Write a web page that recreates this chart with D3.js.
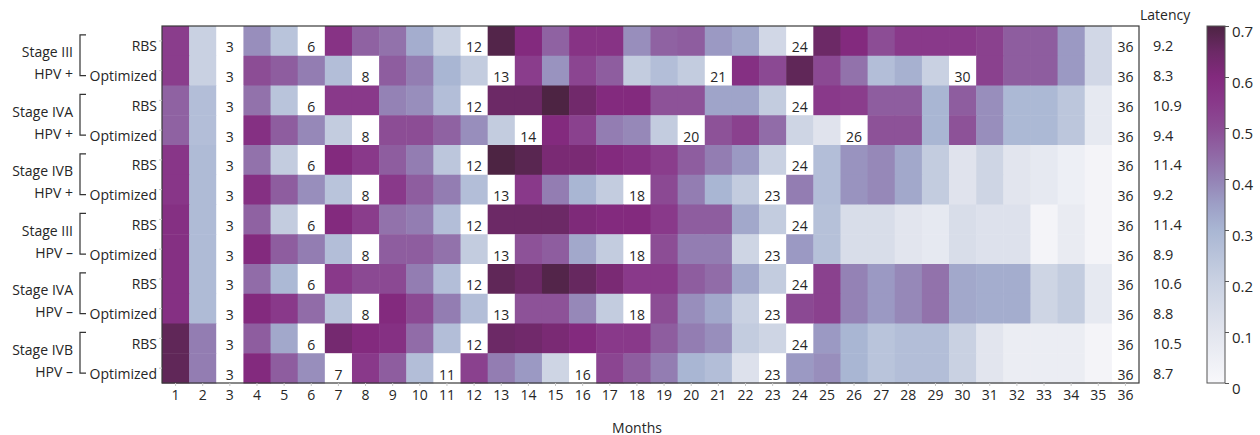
<!DOCTYPE html>
<html>
<head>
<meta charset="utf-8">
<script src="https://cdn.jsdelivr.net/npm/d3@7"></script>
<style>
  html, body { margin: 0; padding: 0; background: #fff; }
  svg { display: block; font-family: "Open Sans", "Noto Sans", sans-serif; }
</style>
</head>
<body>
<svg id="chart" width="1260" height="435"></svg>
<script>
// Months on the horizontal axis
const months = d3.range(1, 37);

// Rows: strategy label per row, with stage/HPV groups of two rows
const strategies = ["RBS", "Optimized", "RBS", "Optimized", "RBS", "Optimized",
                    "RBS", "Optimized", "RBS", "Optimized", "RBS", "Optimized"];
const groupStage = ["Stage III", "Stage IVA", "Stage IVB", "Stage III", "Stage IVA", "Stage IVB"];
const groupHpv = ["HPV +", "HPV +", "HPV +", "HPV \u2013", "HPV \u2013", "HPV \u2013"];

// Mean latency per row
const latency = [9.2, 8.3, 10.9, 9.4, 11.4, 9.2, 11.4, 8.9, 10.6, 8.8, 10.5, 8.7];

// Monthly values per row; null marks a scheduled screening month
const s3PosRBS = [0.54,0.20,null,0.38,0.25,null,0.57,0.46,0.43,0.32,0.20,null,0.69,0.60,0.46,0.57,0.57,0.38,0.46,0.47,0.36,0.33,0.17,null,0.65,0.60,0.50,0.55,0.55,0.55,0.53,0.47,0.47,0.36,0.17,null];
const s3PosOpt = [0.54,0.20,null,0.50,0.47,0.41,0.27,null,0.47,0.41,0.30,0.22,null,0.54,0.37,0.52,0.47,0.22,0.27,0.22,null,0.58,0.51,0.67,0.51,0.43,0.27,0.31,0.20,null,0.53,0.47,0.47,0.36,0.17,null];
const s4aPosRBS = [0.46,0.27,null,0.43,0.25,null,0.55,0.55,0.40,0.38,0.27,null,0.65,0.65,0.70,0.64,0.60,0.60,0.49,0.49,0.34,0.34,0.22,null,0.55,0.54,0.47,0.47,0.30,0.47,0.38,0.29,0.29,0.24,0.08,null];
const s4aPosOpt = [0.46,0.27,null,0.58,0.47,0.39,0.22,null,0.50,0.50,0.46,0.38,0.22,null,0.60,0.53,0.41,0.39,0.22,null,0.49,0.53,0.44,0.18,0.11,null,0.49,0.49,0.30,0.49,0.38,0.29,0.29,0.24,0.08,null];
const s4bPosRBS = [0.56,0.28,null,0.43,0.22,null,0.60,0.55,0.47,0.41,0.24,null,0.70,0.68,0.62,0.62,0.60,0.58,0.54,0.47,0.41,0.36,0.20,null,0.27,0.37,0.39,0.33,0.22,0.11,0.18,0.10,0.08,0.05,0.02,null];
const s4bPosOpt = [0.56,0.28,null,0.58,0.47,0.38,0.25,null,0.55,0.47,0.41,0.27,null,0.55,0.41,0.30,0.22,null,0.51,0.41,0.30,0.22,null,0.41,0.27,0.37,0.39,0.33,0.22,0.11,0.18,0.10,0.08,0.05,0.02,null];
const s3NegRBS = [0.58,0.28,null,0.46,0.22,null,0.60,0.54,0.43,0.41,0.27,null,0.65,0.65,0.65,0.61,0.60,0.60,0.55,0.47,0.47,0.33,0.22,null,0.26,0.14,0.14,0.10,0.08,0.14,0.12,0.12,0.02,0.07,0.02,null];
const s3NegOpt = [0.58,0.28,null,0.60,0.47,0.41,0.27,null,0.47,0.47,0.43,0.22,null,0.49,0.47,0.33,0.22,null,0.50,0.41,0.41,0.18,null,0.36,0.26,0.14,0.14,0.10,0.08,0.14,0.12,0.12,0.02,0.07,0.02,null];
const s4aNegRBS = [0.58,0.28,null,0.44,0.29,null,0.55,0.51,0.51,0.41,0.27,null,0.67,0.65,0.69,0.66,0.62,0.55,0.55,0.47,0.44,0.33,0.22,null,0.53,0.40,0.36,0.39,0.43,0.33,0.32,0.32,0.18,0.22,0.08,null];
const s4aNegOpt = [0.58,0.28,null,0.60,0.55,0.44,0.25,null,0.60,0.51,0.41,0.27,null,0.49,0.49,0.39,0.22,null,0.50,0.38,0.33,0.20,null,0.51,0.53,0.40,0.36,0.39,0.43,0.33,0.32,0.32,0.18,0.22,0.08,null];
const s4bNegRBS = [0.67,0.41,null,0.47,0.33,null,0.63,0.60,0.58,0.44,0.27,null,0.65,0.64,0.62,0.60,0.55,0.55,0.47,0.41,0.38,0.22,0.18,null,0.36,0.30,0.25,0.27,0.27,0.20,0.10,0.06,0.06,0.06,0.02,null];
const s4bNegOpt = [0.67,0.41,null,0.60,0.47,0.38,null,0.55,0.47,0.27,null,0.53,0.41,0.36,0.18,null,0.52,0.47,0.41,0.30,0.27,0.12,null,0.36,0.38,0.30,0.25,0.27,0.27,0.20,0.10,0.06,0.06,0.06,0.02,null];

const rowValues = [s3PosRBS, s3PosOpt, s4aPosRBS, s4aPosOpt, s4bPosRBS, s4bPosOpt,
                   s3NegRBS, s3NegOpt, s4aNegRBS, s4aNegOpt, s4bNegRBS, s4bNegOpt];

// Colour bar ticks
const colorTicks = [0, 0.1, 0.2, 0.3, 0.4, 0.5, 0.6, 0.7];

// ---- layout ----
const svg = d3.select("#chart");
const plot = { left: 162, right: 1139, top: 26, bottom: 383 };
const textColor = "#262626";

const x = d3.scaleBand().domain(months).range([plot.left, plot.right]);
const y = d3.scaleBand().domain(d3.range(strategies.length)).range([plot.top, plot.bottom]);

// sequential white -> blue-grey -> purple -> dark plum
const stopVals = [0, 0.1, 0.2, 0.3, 0.35, 0.4, 0.45, 0.5, 0.55, 0.6, 0.65, 0.7];
const stopCols = ["#f8f8fb", "#e2e5ee", "#c9d1e2", "#a9b6d3", "#9d9fc6", "#9482b5",
                  "#9067a5", "#8c4d95", "#89398a", "#832a7e", "#6c2966", "#4d2443"];
const color = d3.scaleLinear().domain(stopVals).range(stopCols)
  .interpolate(d3.interpolateRgb).clamp(true);

// cells
const cells = [];
rowValues.forEach((vals, r) => vals.forEach((v, i) => cells.push({ r, m: months[i], v })));

svg.append("g").selectAll("rect").data(cells).join("rect")
  .attr("x", d => x(d.m))
  .attr("y", d => y(d.r))
  .attr("width", x.bandwidth() + 0.5)
  .attr("height", y.bandwidth() + 0.5)
  .attr("fill", d => d.v == null ? "#ffffff" : color(d.v));

// screening month labels
svg.append("g").selectAll("text").data(cells.filter(d => d.v == null)).join("text")
  .attr("x", d => x(d.m) + x.bandwidth() / 2)
  .attr("y", d => y(d.r) + y.bandwidth() / 2 + 6)
  .attr("text-anchor", "middle")
  .attr("dominant-baseline", "central")
  .attr("font-size", 14)
  .attr("fill", textColor)
  .text(d => d.m);

// frame
svg.append("rect")
  .attr("x", plot.left).attr("y", plot.top)
  .attr("width", plot.right - plot.left).attr("height", plot.bottom - plot.top)
  .attr("fill", "none").attr("stroke", "#3a3a3a").attr("stroke-width", 1.2);

// bottom axis
const xAxis = svg.append("g")
  .attr("transform", `translate(0,${plot.bottom})`)
  .call(d3.axisBottom(x).tickSize(3).tickPadding(4));
xAxis.select(".domain").remove();
xAxis.selectAll(".tick line").attr("stroke", "#c8c8c8");
xAxis.selectAll(".tick text").attr("font-size", 14).attr("fill", textColor)
  .attr("font-family", "'Open Sans', sans-serif");

svg.append("text")
  .attr("x", 637).attr("y", 427)
  .attr("text-anchor", "middle").attr("dominant-baseline", "central")
  .attr("font-size", 14).attr("fill", textColor)
  .text("Months");

// left ticks and strategy labels
const yAxis = svg.append("g")
  .attr("transform", `translate(${plot.left},0)`)
  .call(d3.axisLeft(y).tickSize(3).tickPadding(2).tickFormat(i => strategies[i]));
yAxis.select(".domain").remove();
yAxis.selectAll(".tick line").attr("stroke", "#c8c8c8");
yAxis.selectAll(".tick text").attr("font-size", 14).attr("fill", textColor)
  .attr("dy", "0.75em").attr("font-family", "'Open Sans', sans-serif");

// group labels with brackets
const groups = groupStage.map((s, g) => ({ stage: s, hpv: groupHpv[g], g }));
const gG = svg.append("g").selectAll("g").data(groups).join("g");
gG.append("text")
  .attr("x", 73)
  .attr("y", d => y(d.g * 2) + y.bandwidth() / 2 + 11)
  .attr("text-anchor", "end").attr("dominant-baseline", "central")
  .attr("font-size", 14).attr("fill", textColor)
  .text(d => d.stage);
gG.append("text")
  .attr("x", 73)
  .attr("y", d => y(d.g * 2 + 1) + y.bandwidth() / 2 + 3)
  .attr("text-anchor", "end").attr("dominant-baseline", "central")
  .attr("font-size", 14).attr("fill", textColor)
  .text(d => d.hpv);
gG.append("path")
  .attr("d", d => {
    const t = y(d.g * 2) + y.bandwidth() / 2 - 6;
    const b = y(d.g * 2 + 1) + y.bandwidth() / 2 + 5;
    return `M86,${t} H80 V${b} H86`;
  })
  .attr("fill", "none").attr("stroke", "#333").attr("stroke-width", 1.2);

// latency column
svg.append("text")
  .attr("x", 1140).attr("y", 14)
  .attr("dominant-baseline", "central")
  .attr("font-size", 14).attr("fill", textColor)
  .text("Latency");
svg.append("g").selectAll("text").data(latency).join("text")
  .attr("x", 1153)
  .attr("y", (d, i) => y(i) + y.bandwidth() / 2 + 5)
  .attr("dominant-baseline", "central")
  .attr("font-size", 14.5).attr("fill", textColor)
  .text(d => d.toFixed(1));

// colour bar
const cb = { x: 1207, w: 18 };
const cScale = d3.scaleLinear().domain([0, 0.7]).range([plot.bottom, plot.top]);
const defs = svg.append("defs");
const grad = defs.append("linearGradient").attr("id", "cbGrad")
  .attr("x1", 0).attr("y1", 1).attr("x2", 0).attr("y2", 0);
grad.selectAll("stop").data(stopVals).join("stop")
  .attr("offset", d => d / 0.7)
  .attr("stop-color", d => color(d));
svg.append("rect")
  .attr("x", cb.x).attr("y", plot.top)
  .attr("width", cb.w).attr("height", plot.bottom - plot.top)
  .attr("fill", "url(#cbGrad)")
  .attr("stroke", "#555").attr("stroke-width", 1);
const cAxis = svg.append("g")
  .attr("transform", `translate(${cb.x + cb.w},0)`)
  .call(d3.axisRight(cScale).tickValues(colorTicks).tickSize(4).tickPadding(3)
    .tickFormat(d => d === 0 ? "0" : d3.format(".1f")(d)));
cAxis.select(".domain").remove();
cAxis.selectAll(".tick line").attr("stroke", "#555");
cAxis.selectAll(".tick text").attr("font-size", 15).attr("fill", textColor)
  .attr("dy", "0.7em").attr("font-family", "'Open Sans', sans-serif");
</script>
</body>
</html>
